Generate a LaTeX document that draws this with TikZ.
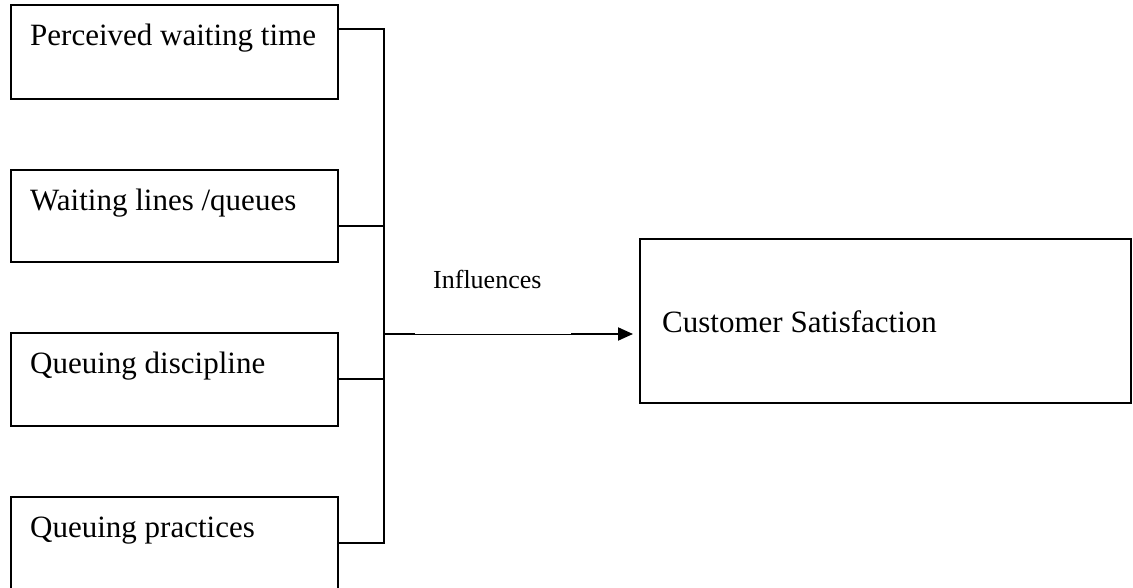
\documentclass[tikz,border=0pt]{standalone}
\usepackage{fontspec}
\setmainfont{Liberation Serif}
\usetikzlibrary{arrows.meta}
\begin{document}
\begin{tikzpicture}[x=1pt,y=-1pt,
  box/.style={draw, line width=1.3pt, inner sep=0pt, outer sep=0pt, anchor=north west},
  lbl/.style={anchor=base west, inner sep=0pt, font=\fontsize{31}{36}\selectfont},
  small/.style={anchor=base west, inner sep=0pt, font=\fontsize{26}{30}\selectfont},
  conn/.style={line width=2pt},
  thin/.style={line width=1pt}]
\clip (0,0) rectangle (1133,588);
% boxes
\node[box, minimum width=327pt, minimum height=94pt] (b1) at (11,5) {};
\node[box, minimum width=327pt, minimum height=92pt] (b2) at (11,170) {};
\node[box, minimum width=327pt, minimum height=93pt] (b3) at (11,333) {};
\node[box, minimum width=327pt, minimum height=100pt] (b4) at (11,497) {};
\node[box, minimum width=491pt, minimum height=164pt] (cs) at (640,239) {};
% labels
\node[lbl] (t1) at (30,46) {Perceived waiting time};
\node[lbl] (t2) at (30,211) {Waiting lines /queues};
\node[lbl] (t3) at (30,373) {Queuing discipline};
\node[lbl] (t4) at (30,537) {Queuing practices};
\node[lbl] (t5) at (662,332) {Customer Satisfaction};
\node[small] (inf) at (433,288) {Influences};
% connectors
\coordinate (bt) at (384,29);
\coordinate (bb) at (384,543);
\coordinate (m2) at (384,226);
\coordinate (m3) at (384,379);
\coordinate (j) at (384,334);
\coordinate (ja) at (415,334);
\coordinate (jb) at (571,334);
\draw[conn] (b1.east |- bt) -- (bt) -- (bb) -- (b4.east |- bb);
\draw[conn] (b2.east |- m2) -- (m2);
\draw[conn] (b3.east |- m3) -- (m3);
\draw[conn] (j) -- (ja);
\draw[thin] (ja) -- (jb);
\draw[conn, -{Triangle[length=15pt,width=13pt]}, shorten >=7pt] (jb) -- (cs.west |- j);
\end{tikzpicture}
\end{document}
